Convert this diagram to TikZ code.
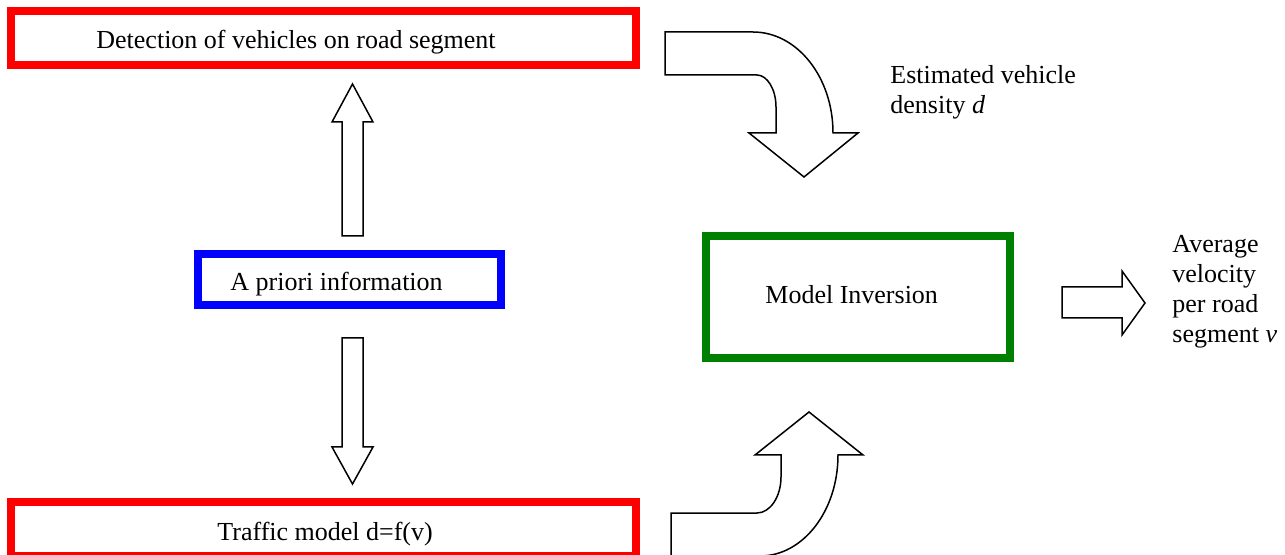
\documentclass[tikz,border=0pt]{standalone}
\usepackage{fontspec}
\setmainfont{Liberation Serif}
\definecolor{invgreen}{RGB}{0,128,0}
\begin{document}
\begin{tikzpicture}[
        x=0.5pt, y=-0.5pt,
        redblock/.style={rectangle, draw=red, line width=4pt, minimum width=312.5pt, minimum height=27pt},
        infoblock/.style={rectangle, draw=blue, line width=4pt, minimum width=151.5pt, minimum height=25.5pt},
        invblock/.style={rectangle, draw=invgreen, line width=4pt, minimum width=152pt, minimum height=61pt},
        txt/.style={font=\fontsize{13}{15}\selectfont, inner sep=0pt, align=left},
        bigarrow/.style={draw, line width=0.75pt, fill=white, line join=miter}
    ]
        \clip (0,0) rectangle (1285,555);

        % boxes
        \node[redblock] (detect) at (323.5,38) {};
        \node[infoblock] (prior) at (349.5,279.5) {};
        \node[invblock] (inv) at (858,297) {};
        \node[redblock] (model) at (323.5,529) {};

        % texts
        \node[txt, anchor=base west] (detecttxt) at (96,49) {Detection of vehicles on road segment};
        \node[txt, anchor=base west] (priortxt) at (230,291) {A priori information};
        \node[txt, anchor=base west] (invtxt) at (765,304) {Model Inversion};
        \node[txt, anchor=base west] (modeltxt) at (217,540) {Traffic model d=f(v)};
        \node[txt, anchor=base west] (density) at (890,114) {Estimated vehicle\\density \textit{d}};
        \node[txt, anchor=base west] (velocity) at (1172,343) {Average\\velocity\\per road\\segment \textit{v}};

        % straight arrows
        \draw[bigarrow] (342,236) -- (342,122) -- (332,122) -- (352.5,84) -- (373,122) -- (363,122) -- (363,236) -- cycle;
        \draw[bigarrow] (342,338) -- (342,447) -- (332,447) -- (352.5,484) -- (373,447) -- (363,447) -- (363,338) -- cycle;
        \draw[bigarrow] (1062,287) -- (1122,287) -- (1122,271) -- (1145,303) -- (1122,335) -- (1122,318) -- (1062,318) -- cycle;

        % bent arrows
        \draw[bigarrow] (665,32) -- (753,32) .. controls (797,32) and (833,77) .. (833,133)
            -- (858,133) -- (804,177) -- (749,133) -- (776,133) -- (776,107)
            .. controls (776,89) and (767,75) .. (757,75) -- (665,75) -- cycle;
        \draw[bigarrow] (671,560) -- (671,513) -- (757,513) .. controls (770,513) and (781,497) .. (781,477)
            -- (781,455) -- (755,455) -- (809,412) -- (863,455) -- (838,455)
            .. controls (838,511) and (803,556) .. (760,556) -- (760,560) -- cycle;
    \end{tikzpicture}
\end{document}
